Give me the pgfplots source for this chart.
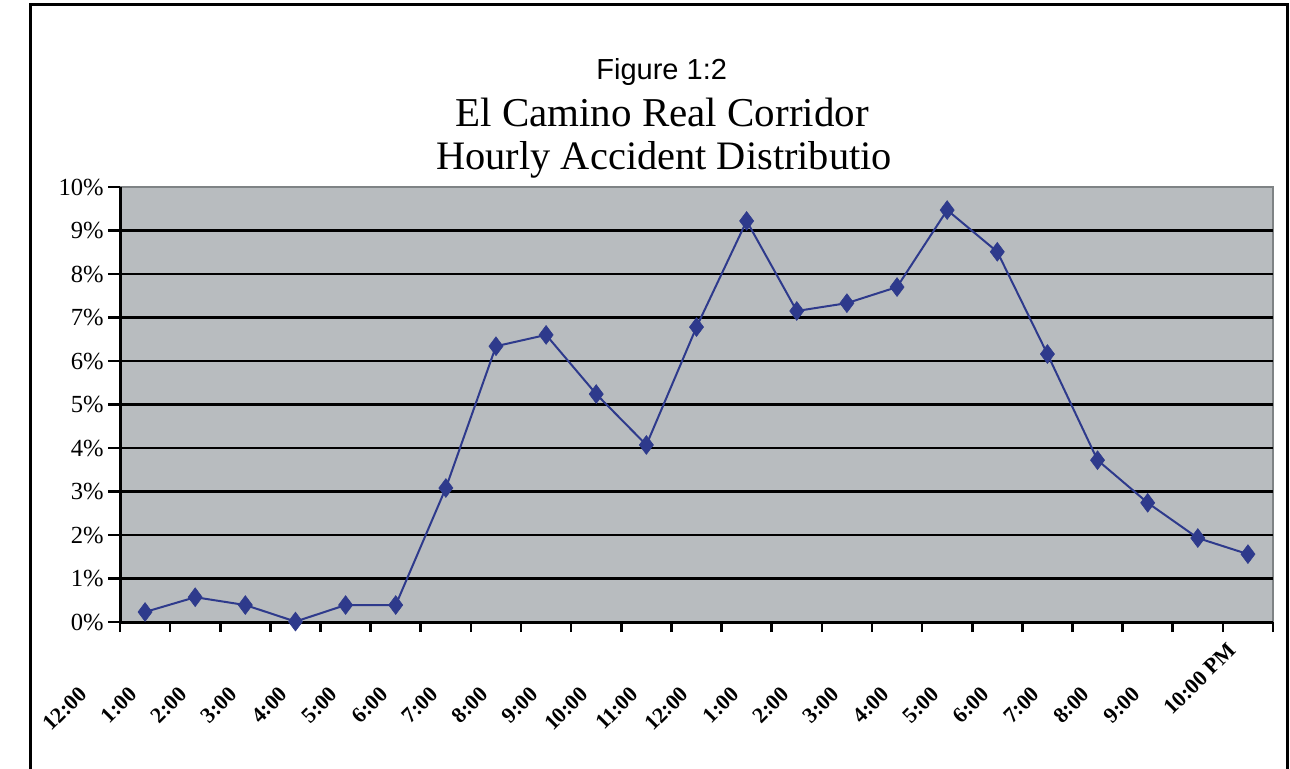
\documentclass[border=0pt]{standalone}
\usepackage{pgfplots}
\pgfplotsset{compat=1.18}
\usepackage{fontspec}
\setmainfont{Liberation Serif}
\newfontfamily\arialfont{Liberation Sans}
\definecolor{bgc}{HTML}{B8BCBF}
\definecolor{bordc}{HTML}{7F8385}
\definecolor{linec}{HTML}{2E3A8C}
\begin{document}
\begin{tikzpicture}
\path[use as bounding box] (0,0) rectangle (645pt,384pt);
\draw[black, line width=1.5pt] (15pt,-2pt) -- (15pt,381.5pt) -- (643.5pt,381.5pt) -- (643.5pt,-2pt);
\node[anchor=base west, inner sep=0pt, font=\arialfont\fontsize{14.5}{16}\selectfont] at (298pt,344.5pt) {Figure 1:2};
\node[anchor=base west, inner sep=0pt, font=\fontsize{20.5}{22}\selectfont] at (227.5pt,321pt) {El Camino Real Corridor};
\node[anchor=base west, inner sep=0pt, font=\fontsize{20.2}{22}\selectfont] at (218pt,299.5pt) {Hourly Accident Distributio};
\begin{axis}[
  at={(60pt,73pt)}, anchor=south west,
  scale only axis, width=576.5pt, height=217.5pt,
  xmin=-0.5, xmax=22.5, ymin=0, ymax=10,
  axis background/.style={fill=bgc, draw=bordc, line width=1.4pt},
  axis x line*=bottom, axis y line*=left,
  axis line style={black, line width=1.5pt, -},
  ytick={0,...,9}, extra y ticks={10}, extra y tick style={grid=none},
  yticklabel={\pgfmathprintnumber{\tick}\%},
  ymajorgrids, major grid style={black, line width=1.3pt},
  tick align=outside,
  major tick length=6pt, minor tick length=5pt,
  y tick style={black, line width=1.3pt},
  xtick={0,...,21},
  minor xtick={-0.5,0.5,...,22.5},
  major x tick style={draw=none},
  minor x tick style={black, line width=1.3pt},
  xticklabels={12:00,1:00,2:00,3:00,4:00,5:00,6:00,7:00,8:00,9:00,10:00,11:00,12:00,1:00,2:00,3:00,4:00,5:00,6:00,7:00,8:00,9:00},
  extra x ticks={22},
  extra x tick labels={10:00 PM},
  extra x tick style={major tick length=0pt, xticklabel style={xshift=27.6pt, yshift=-4.9pt}},
  x tick label style={rotate=45, anchor=north east, font=\bfseries\fontsize{11}{12}\selectfont, inner sep=0pt, xshift=-41.7pt, yshift=5.9pt},
  y tick label style={font=\fontsize{12.3}{13}\selectfont, inner sep=1pt, xshift=-1pt},
  /pgf/number format/assume math mode=true,
  clip=false,
]
\addplot[linec, line width=1pt, mark=diamond*, mark size=4.7pt, mark options={fill=linec, draw=linec, line width=0.3pt}] coordinates {
(0,0.23) (1,0.57) (2,0.39) (3,0.01) (4,0.39) (5,0.39) (6,3.08) (7,6.34) (8,6.60) (9,5.24) (10,4.07) (11,6.78)
(12,9.22) (13,7.15) (14,7.33) (15,7.70) (16,9.47) (17,8.51) (18,6.16) (19,3.72) (20,2.74) (21,1.93) (22,1.56)};
\end{axis}
\end{tikzpicture}
\end{document}
